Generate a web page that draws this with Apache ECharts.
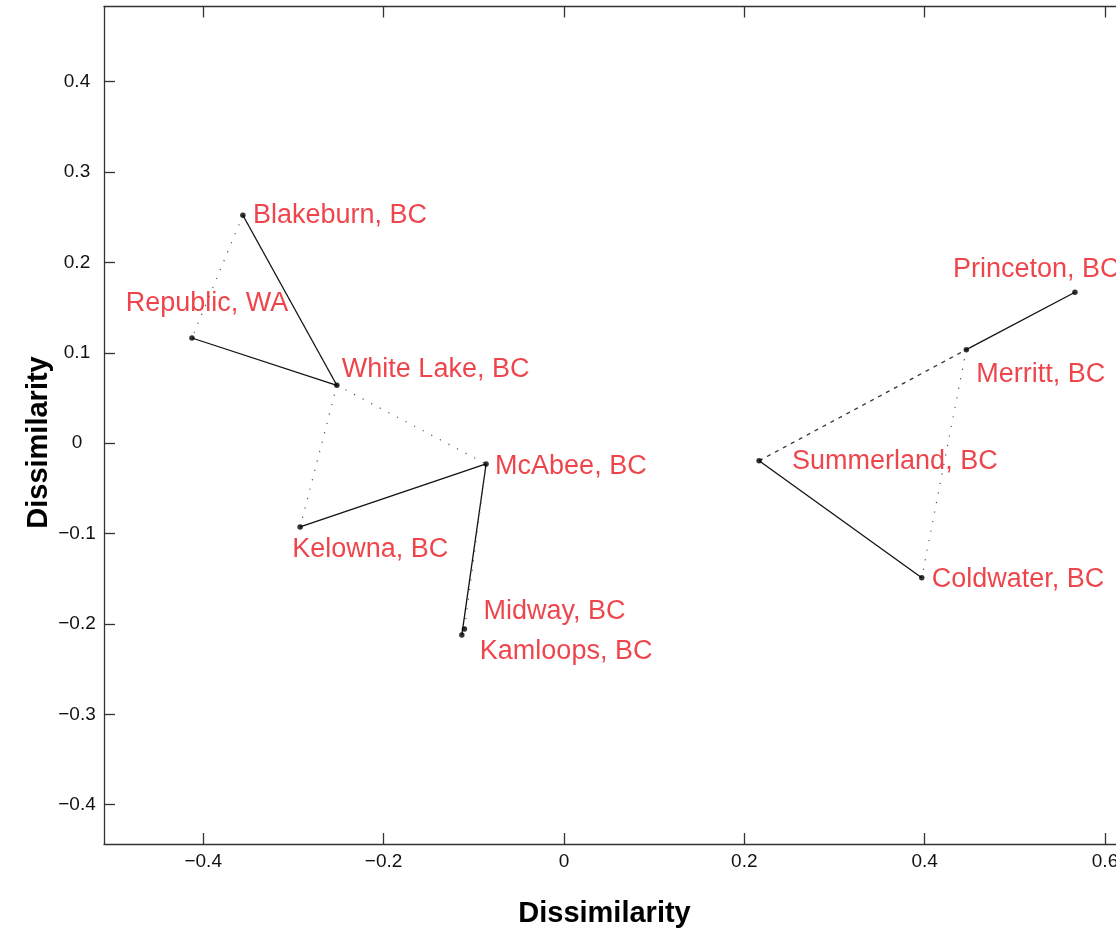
<!DOCTYPE html>
<html>
<head>
<meta charset="utf-8">
<script src="https://cdn.jsdelivr.net/npm/echarts@6/dist/echarts.min.js"></script>
<style>
html,body{margin:0;padding:0;background:#fff;}
#chart{width:1116px;height:934px;}
</style>
</head>
<body>
<div id="chart"></div>
<script>
// ---- data ----
const siteNames = ['Blakeburn, BC', 'Republic, WA', 'White Lake, BC', 'McAbee, BC', 'Kelowna, BC', 'Midway, BC', 'Kamloops, BC', 'Princeton, BC', 'Merritt, BC', 'Summerland, BC', 'Coldwater, BC'];
const xValues = [-0.356, -0.4125, -0.2518, -0.0863, -0.2925, -0.1103, -0.1132, 0.5667, 0.4462, 0.2164, 0.3968];
const yValues = [0.2522, 0.1164, 0.0641, -0.0230, -0.0927, -0.2056, -0.2122, 0.1670, 0.1035, -0.0194, -0.1488];
const solidLinks = [[0, 2], [1, 2], [4, 3], [3, 6], [7, 8], [9, 10]];
const dottedLinks = [[0, 1], [2, 3], [2, 4], [3, 5], [8, 10]];
const dashedLinks = [[9, 8]];
const xTicks = [-0.4, -0.2, 0, 0.2, 0.4, 0.6];
const yTicks = [-0.4, -0.3, -0.2, -0.1, 0, 0.1, 0.2, 0.3, 0.4];
const xTitle = 'Dissimilarity';
const yTitle = 'Dissimilarity';

// ---- style (label placement relative to each point) ----
const labelPlacement = {
  'Blakeburn, BC': [10, 0, 'left'],
  'Republic, WA': [15, -34, 'center'],
  'White Lake, BC': [5, -16, 'left'],
  'McAbee, BC': [9, 3, 'left'],
  'Kelowna, BC': [-8, 23, 'left'],
  'Midway, BC': [19, -17, 'left'],
  'Kamloops, BC': [18, 17, 'left'],
  'Princeton, BC': [-122, -23, 'left'],
  'Merritt, BC': [10, 25, 'left'],
  'Summerland, BC': [33, 1, 'left'],
  'Coldwater, BC': [10, 2, 'left']
};

const FONT = '"Liberation Sans", Arial, Helvetica, sans-serif';
const fmt = v => {
  if (Math.abs(v) < 1e-9) return '0';
  return (v < 0 ? '\u2212' : '') + Math.abs(v).toFixed(1);
};

const points = siteNames.map((n, i) => ({name: n, value: [xValues[i], yValues[i]]}));
const linkData = links => links.map(([a, b]) => ({coords: [[xValues[a], yValues[a]], [xValues[b], yValues[b]]]}));

const xMin = -0.51, xMax = 0.6122, yMin = -0.4435, yMax = 0.4832;
const axisColor = '#333';

const chart = echarts.init(document.getElementById('chart'), null, {renderer: 'canvas'});
chart.setOption({
  backgroundColor: '#fff',
  animation: false,
  grid: {left: 104, top: 6.5, width: 1012, height: 837.5, show: false, containLabel: false, outerBoundsMode: 'none'},
  xAxis: [{
    type: 'value', min: xMin, max: xMax, position: 'bottom',
    axisLine: {show: true, onZero: false, lineStyle: {color: axisColor, width: 1.3}},
    splitLine: {show: false},
    axisTick: {show: true, inside: true, length: 11, customValues: xTicks, lineStyle: {color: axisColor, width: 1.3}},
    axisLabel: {show: true, customValues: xTicks, formatter: fmt, fontSize: 19, fontFamily: FONT, color: '#111', margin: 8, hideOverlap: false}
  }, {
    type: 'value', min: xMin, max: xMax, position: 'top',
    axisLine: {show: true, onZero: false, lineStyle: {color: axisColor, width: 1.3}},
    splitLine: {show: false},
    axisTick: {show: true, inside: true, length: 11, customValues: xTicks, lineStyle: {color: axisColor, width: 1.3}},
    axisLabel: {show: false}
  }],
  yAxis: [{
    type: 'value', min: yMin, max: yMax, position: 'left',
    axisLine: {show: true, onZero: false, lineStyle: {color: axisColor, width: 1.3}},
    splitLine: {show: false},
    axisTick: {show: true, inside: true, length: 11, customValues: yTicks, lineStyle: {color: axisColor, width: 1.3}},
    axisLabel: {show: true, customValues: yTicks, formatter: fmt, fontSize: 19, fontFamily: FONT, color: '#111', margin: 27, align: 'center'}
  }],
  series: [{
    type: 'lines', coordinateSystem: 'cartesian2d', xAxisIndex: 0, yAxisIndex: 0,
    data: linkData(solidLinks), silent: true,
    lineStyle: {color: '#111', width: 1.3, type: 'solid', opacity: 1}
  }, {
    type: 'lines', coordinateSystem: 'cartesian2d', xAxisIndex: 0, yAxisIndex: 0,
    data: linkData(dottedLinks), silent: true,
    lineStyle: {color: '#555', width: 1.2, type: [1.2, 8.5], opacity: 1}
  }, {
    type: 'lines', coordinateSystem: 'cartesian2d', xAxisIndex: 0, yAxisIndex: 0,
    data: linkData(dashedLinks), silent: true,
    lineStyle: {color: '#333', width: 1.3, type: [4, 5], opacity: 1}
  }, {
    type: 'scatter', xAxisIndex: 0, yAxisIndex: 0,
    data: points, symbol: 'circle', symbolSize: 5.5,
    itemStyle: {color: '#000'},
    label: {
      show: true, position: 'inside', formatter: '{b}', align: 'left', verticalAlign: 'middle',
      fontSize: 27, fontFamily: FONT, color: '#e8161e', textBorderWidth: 0
    },
    labelLayout: function (params) {
      const p = labelPlacement[siteNames[params.dataIndex]];
      return {dx: p[0], dy: p[1], align: p[2], verticalAlign: 'middle', hideOverlap: false};
    },
    z: 5
  }],
  graphic: [{
    type: 'text', z: 10, x: 604.5, y: 914,
    style: {text: xTitle, font: 'bold 29px ' + FONT, fill: '#000', align: 'center', verticalAlign: 'middle'}
  }, {
    type: 'text', z: 10, x: 39, y: 442.5, rotation: Math.PI / 2,
    style: {text: yTitle, font: 'bold 29px ' + FONT, fill: '#000', align: 'center', verticalAlign: 'middle'}
  }]
});
</script>
</body>
</html>
